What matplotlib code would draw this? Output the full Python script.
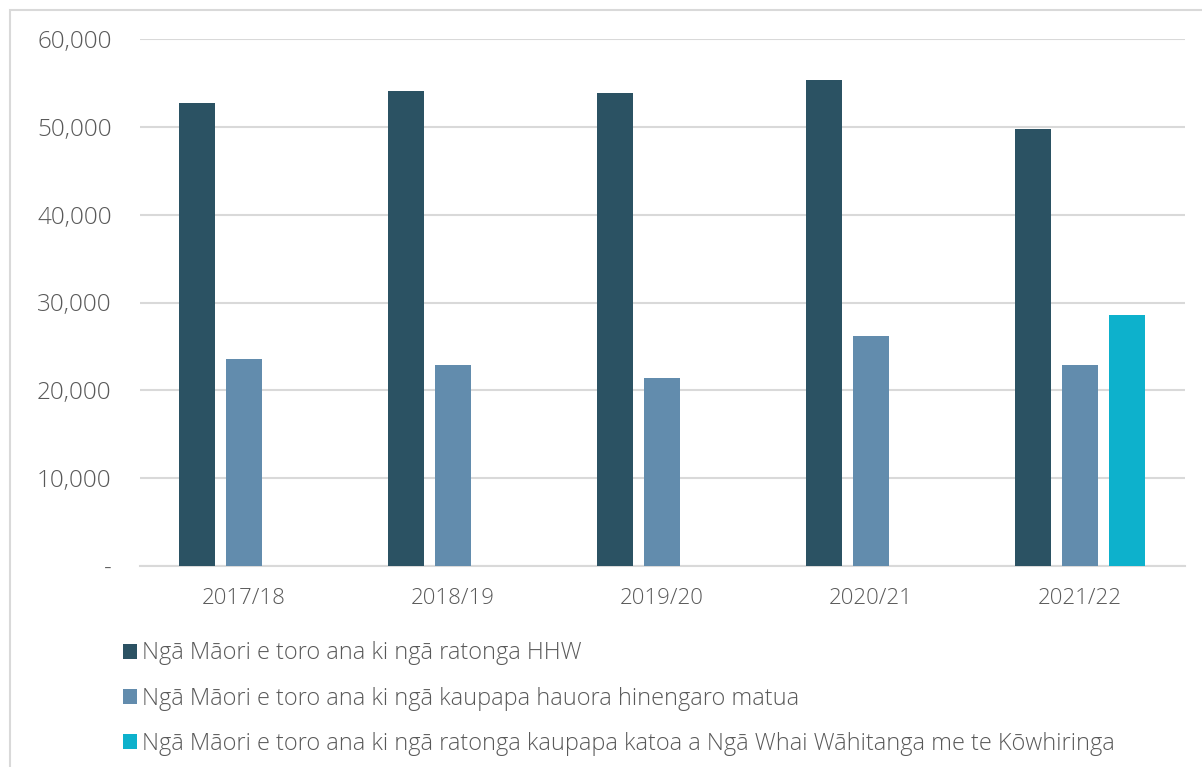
import numpy as np
import matplotlib.pyplot as plt
from matplotlib.patches import Rectangle
from matplotlib.ticker import FuncFormatter

years = ["2017/18", "2018/19", "2019/20", "2020/21", "2021/22"]
hhw = [52700, 54100, 53850, 55300, 49750]
hauora = [23600, 22900, 21400, 26200, 22900]
whai = [np.nan, np.nan, np.nan, np.nan, 28600]

labels = [
    "Ngā Māori e toro ana ki ngā ratonga HHW",
    "Ngā Māori e toro ana ki ngā kaupapa hauora hinengaro matua",
    "Ngā Māori e toro ana ki ngā ratonga kaupapa katoa a Ngā Whai Wāhitanga me te Kōwhiringa",
]
colors = ["#2b5263", "#628cad", "#0db1cc"]
text_col = "#595959"

plt.rcParams["font.family"] = ["Open Sans", "DejaVu Sans"]
plt.rcParams["font.weight"] = "light"

fig = plt.figure(figsize=(12.02, 7.67), dpi=100)
W, H = 1202, 767
ax = fig.add_axes([139.5 / W, 1 - 566 / H, 1045 / W, 527 / H])

# outer frame (only top and left edges visible)
fig.patches.append(Rectangle((10 / W, -0.5), 2, 1.5 - 10 / H, transform=fig.transFigure,
                             fill=False, edgecolor="#d9d9d9", linewidth=1.5, zorder=0))

x = np.arange(len(years))
bw = 36 / 209
off = 47 / 209
for i, (vals, lab) in enumerate(zip([hhw, hauora, whai], labels)):
    ax.bar(x + (i - 1) * off, vals, width=bw, color=colors[i], label=lab, zorder=3)

ax.set_xlim(-0.5, len(years) - 0.5)
ax.set_ylim(0, 60000)
ax.set_yticks(np.arange(0, 60001, 10000))
ax.yaxis.set_major_formatter(FuncFormatter(lambda v, p: "-" if v == 0 else f"{int(v):,}"))
ax.set_xticks(x)
ax.set_xticklabels(years)
ax.grid(axis="y", color="#d9d9d9", linewidth=1.5, zorder=0)
for s in ["top", "right", "left"]:
    ax.spines[s].set_visible(False)
ax.spines["bottom"].set_color("#d9d9d9")
ax.spines["bottom"].set_linewidth(1.5)
ax.tick_params(axis="both", length=0, colors=text_col)
ax.tick_params(axis="y", pad=20, labelsize=17.5)
ax.tick_params(axis="x", pad=16, labelsize=16)

handles, labs = ax.get_legend_handles_labels()
fig.legend(handles, labs, loc="upper left", bbox_to_anchor=(114 / W, 1 - 632 / H),
           frameon=False, fontsize=16.9, labelcolor=text_col, handlelength=0.6,
           handleheight=0.6, handletextpad=0.2, labelspacing=0.9, borderaxespad=0)

fig.savefig("out.png", dpi=100, facecolor="white")
